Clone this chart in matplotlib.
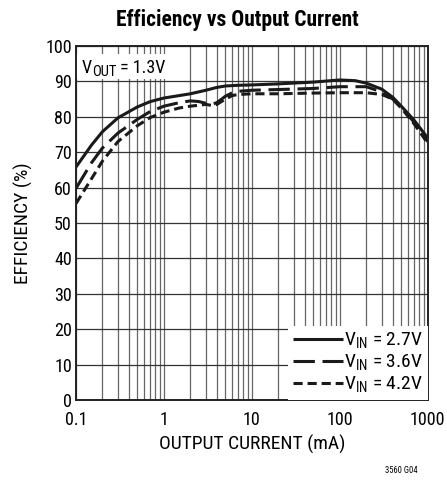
import matplotlib
matplotlib.use("Agg")
import matplotlib.pyplot as plt
from matplotlib.ticker import FixedLocator, LogLocator, NullFormatter
from matplotlib.patches import Rectangle
from matplotlib import font_manager

names = sorted({f.name for f in font_manager.fontManager.ttflist})
narrow = [n for n in ['Liberation Sans Narrow', 'Roboto Condensed', 'Open Sans Condensed', 'Noto Sans Condensed', 'Roboto'] if n in names]
fam = narrow[0] if narrow else 'Liberation Sans'
plt.rcParams['font.family'] = [fam, 'DejaVu Sans']
plt.rcParams['mathtext.fontset'] = 'custom'
plt.rcParams['mathtext.rm'] = fam

# Data
x_27 = [0.1, 0.15, 0.2, 0.3, 0.5, 0.7, 1, 1.5, 2, 3, 4, 5, 7, 10, 20, 50, 100, 150, 200, 300, 400, 500, 700, 1000]
y_27 = [65.8, 72, 75.8, 79.7, 82.8, 84.3, 85.3, 86, 86.5, 87.5, 88.3, 88.7, 88.9, 89, 89.3, 89.8, 90.4, 90.2, 89.5, 87.8, 85.5, 83, 79, 74]

x_36 = [0.1, 0.15, 0.2, 0.3, 0.5, 0.7, 1, 1.5, 2, 2.5, 3, 3.5, 4, 5, 6, 7, 10, 20, 50, 100, 200, 300, 400, 500, 700, 1000]
y_36 = [59.8, 67, 71.2, 75.4, 79.3, 81.5, 83, 84, 84.5, 84.3, 83.8, 83.5, 84, 85.8, 86.8, 87.2, 87.5, 87.7, 88, 88.5, 88.5, 87, 85, 82.5, 78.5, 73]

x_42 = [0.1, 0.15, 0.2, 0.3, 0.5, 0.7, 1, 1.5, 2, 3, 3.5, 4, 5, 6, 7, 10, 20, 50, 100, 200, 300, 400, 500, 700, 1000]
y_42 = [55.5, 62.5, 67.5, 73, 77.5, 79.8, 81.3, 82.5, 83, 83.5, 83.2, 83.5, 85, 86, 86.3, 86.5, 86.5, 86.7, 86.8, 86.8, 86.3, 85, 82.5, 78, 72.5]

x_ticks = [0.1, 1, 10, 100, 1000]
x_tick_labels = ['0.1', '1', '10', '100', '1000']
y_ticks = list(range(0, 101, 10))

labels = ['V$_{\\mathrm{IN}}$ = 2.7V', 'V$_{\\mathrm{IN}}$ = 3.6V', 'V$_{\\mathrm{IN}}$ = 4.2V']
vout_parts = ['V', 'OUT', ' = 1.3V']

fig = plt.figure(figsize=(4.47, 4.83), dpi=100)
ax = fig.add_axes([0.170, 0.1718, 0.787, 0.733])

ax.set_xscale('log')
ax.set_xlim(0.1, 1000)
ax.set_ylim(0, 100)
ax.xaxis.set_major_locator(FixedLocator(x_ticks))
ax.set_xticklabels(x_tick_labels)
ax.xaxis.set_minor_locator(LogLocator(base=10, subs=range(2, 10)))
ax.xaxis.set_minor_formatter(NullFormatter())
ax.set_yticks(y_ticks)

ax.grid(True, which='both', axis='x', color='#666666', linewidth=0.9)
ax.grid(True, which='major', axis='y', color='#333333', linewidth=0.9)
ax.tick_params(which='both', length=0, labelsize=13)
ax.tick_params(axis='x', pad=8)
ax.tick_params(axis='y', pad=3)

for s in ax.spines.values():
    s.set_linewidth(1.4)
    s.set_color('#222222')

l1, = ax.plot(x_27, y_27, color='#1a1a1a', lw=2.2, solid_capstyle='butt')
l2, = ax.plot(x_36, y_36, color='#1a1a1a', lw=2.2, dashes=(7, 2.5))
l3, = ax.plot(x_42, y_42, color='#1a1a1a', lw=2.2, dashes=(3, 1.6))

leg = ax.legend([l1, l2, l3], labels, loc='lower right', fontsize=14,
                handlelength=2.6, handletextpad=0.05, labelspacing=0.08,
                borderpad=0.25, borderaxespad=0.0, frameon=True, fancybox=False)
leg.get_frame().set_facecolor('white')
leg.get_frame().set_edgecolor('none')
leg.get_frame().set_alpha(1)

# V_OUT annotation with white background box
ax.add_patch(Rectangle((0.0, 0.908), 0.283, 0.068, transform=ax.transAxes,
                       facecolor='white', edgecolor='none', zorder=2.5))
renderer = fig.canvas.get_renderer()
ax_w = ax.get_window_extent(renderer).width
x_cur = 0.017
base_y = 0.925
sub_drop = 0.011
sizes = [13, 10.5, 13]
drops = [0, sub_drop, 0]
for part, fs, dy in zip(vout_parts, sizes, drops):
    t = ax.text(x_cur, base_y - dy, part, fontsize=fs, va='baseline', ha='left',
                transform=ax.transAxes, zorder=4)
    w = t.get_window_extent(renderer).width
    x_cur += w / ax_w

ax.set_xlabel('OUTPUT CURRENT (mA)', fontsize=14, labelpad=4)
ax.set_ylabel('EFFICIENCY (%)', fontsize=14, labelpad=9)
fig.text(0.531, 0.959, 'Efficiency vs Output Current', fontsize=15.5, fontweight='bold',
         ha='center', va='center')
fig.text(0.933, 0.025, '3560 G04', fontsize=6.2, ha='right', va='center')

fig.savefig('out.png', dpi=100)
